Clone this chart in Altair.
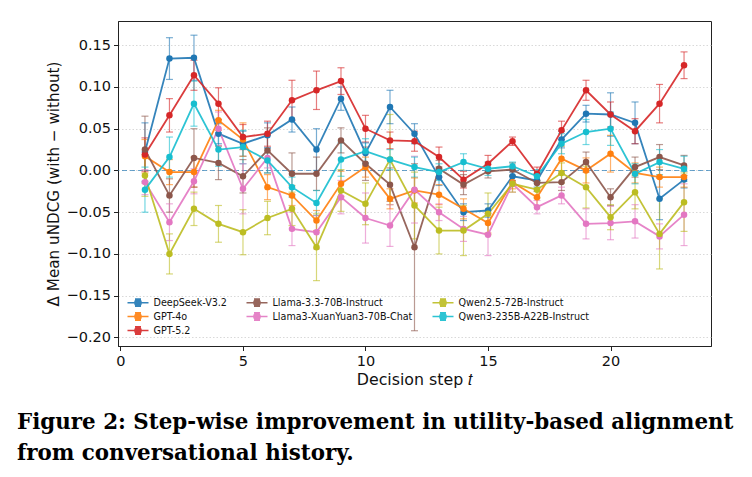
import altair as alt
import pandas as pd

steps = list(range(1, 24))

models = ["DeepSeek-V3.2", "GPT-4o", "GPT-5.2", "Llama-3.3-70B-Instruct",
          "Llama3-XuanYuan3-70B-Chat", "Qwen2.5-72B-Instruct", "Qwen3-235B-A22B-Instruct"]
colors = ["#1f77b4", "#ff7f0e", "#d62728", "#8c564b", "#e377c2", "#bcbd22", "#17becf"]

deepseek_mean = [0.022, 0.134, 0.135, 0.044, 0.032, 0.042, 0.061, 0.025, 0.086, 0.021, 0.076, 0.044,
                 -0.008, -0.050, -0.048, -0.007, -0.012, 0.037, 0.068, 0.067, 0.057, -0.034, -0.011]
gpt4o_mean = [0.017, -0.002, -0.002, 0.060, 0.037, -0.020, -0.030, -0.060, -0.016, 0.004, -0.034, -0.024,
              -0.029, -0.046, -0.063, -0.014, -0.032, 0.014, 0.000, 0.020, -0.003, -0.008, -0.008]
gpt52_mean = [0.019, 0.066, 0.114, 0.080, 0.040, 0.044, 0.084, 0.096, 0.107, 0.050, 0.036, 0.035,
              0.016, -0.011, 0.008, 0.035, -0.004, 0.048, 0.096, 0.067, 0.047, 0.080, 0.126]
llama33_mean = [0.025, -0.030, 0.015, 0.009, -0.007, 0.024, -0.004, -0.004, 0.036, 0.008, -0.017, -0.092,
                0.002, -0.017, -0.001, 0.001, -0.015, -0.014, 0.010, -0.032, 0.004, 0.016, 0.006]
xuanyuan_mean = [-0.014, -0.062, -0.013, 0.050, -0.022, 0.015, -0.070, -0.074, -0.032, -0.057, -0.066, -0.023,
                 -0.050, -0.070, -0.077, -0.016, -0.044, -0.030, -0.064, -0.063, -0.061, -0.079, -0.053]
qwen25_mean = [-0.006, -0.100, -0.046, -0.064, -0.074, -0.057, -0.046, -0.092, -0.024, -0.040, 0.013, -0.042,
               -0.072, -0.072, -0.052, -0.016, -0.023, -0.003, -0.020, -0.056, -0.026, -0.076, -0.038]
qwen3_mean = [-0.023, 0.016, 0.080, 0.025, 0.028, 0.012, -0.020, -0.039, 0.013, 0.023, 0.013, 0.004,
              -0.002, 0.010, 0.002, 0.005, -0.007, 0.032, 0.046, 0.050, -0.004, 0.010, 0.002]

deepseek_err = [0.035, 0.025, 0.027, 0.012, 0.015, 0.015, 0.015, 0.025, 0.014, 0.012, 0.020, 0.012,
                0.010, 0.010, 0.008, 0.005, 0.008, 0.010, 0.010, 0.026, 0.025, 0.025, 0.010]
gpt4o_err = [0.020, 0.015, 0.018, 0.012, 0.020, 0.015, 0.012, 0.012, 0.015, 0.012, 0.012, 0.015,
             0.012, 0.012, 0.012, 0.008, 0.010, 0.015, 0.015, 0.022, 0.012, 0.012, 0.012]
gpt52_err = [0.020, 0.020, 0.018, 0.019, 0.015, 0.015, 0.024, 0.023, 0.016, 0.016, 0.010, 0.012,
             0.012, 0.010, 0.010, 0.005, 0.008, 0.011, 0.012, 0.015, 0.015, 0.023, 0.016]
llama33_err = [0.040, 0.020, 0.035, 0.020, 0.020, 0.027, 0.025, 0.020, 0.015, 0.020, 0.020, 0.100,
               0.010, 0.012, 0.008, 0.008, 0.010, 0.010, 0.012, 0.010, 0.012, 0.015, 0.012]
xuanyuan_err = [0.015, 0.022, 0.015, 0.020, 0.030, 0.012, 0.020, 0.020, 0.020, 0.030, 0.025, 0.040,
                0.010, 0.015, 0.025, 0.010, 0.008, 0.010, 0.018, 0.020, 0.020, 0.015, 0.037]
qwen25_err = [0.025, 0.024, 0.020, 0.022, 0.027, 0.020, 0.020, 0.040, 0.025, 0.025, 0.054, 0.040,
              0.028, 0.030, 0.025, 0.010, 0.010, 0.012, 0.025, 0.015, 0.020, 0.042, 0.035]
qwen3_err = [0.027, 0.024, 0.027, 0.020, 0.020, 0.015, 0.012, 0.015, 0.020, 0.015, 0.012, 0.012,
             0.010, 0.010, 0.008, 0.005, 0.008, 0.012, 0.015, 0.020, 0.012, 0.015, 0.015]

y_ticks = [-0.20, -0.15, -0.10, -0.05, 0.00, 0.05, 0.10, 0.15]
x_ticks = [0, 5, 10, 15, 20]

means = [deepseek_mean, gpt4o_mean, gpt52_mean, llama33_mean, xuanyuan_mean, qwen25_mean, qwen3_mean]
errs = [deepseek_err, gpt4o_err, gpt52_err, llama33_err, xuanyuan_err, qwen25_err, qwen3_err]

rows = []
for m, mv, ev in zip(models, means, errs):
    for t, v, e in zip(steps, mv, ev):
        rows.append({"model": m, "t": t, "mean": v, "lo": v - e, "hi": v + e})
df = pd.DataFrame(rows)

# Vega fills legend columns top-to-bottom; two invisible placeholder entries
# give matplotlib's 3 / 2 / 2 column split.
legend_order = models[:5] + [" "] + models[5:] + ["  "]
legend_colors = colors[:5] + ["rgba(0,0,0,0)"] + colors[5:] + ["rgba(0,0,0,0)"]
color_scale = alt.Scale(domain=legend_order, range=legend_colors)

xs = alt.Scale(domain=[-0.1, 24.1], nice=False, zero=False)
ys = alt.Scale(domain=[-0.2103, 0.179], nice=False, zero=False)

x_axis = alt.Axis(values=x_ticks, title="Decision step 𝑡", grid=False, format="d",
                  titleFontSize=15.8)
y_axis = alt.Axis(values=y_ticks, title="Δ Mean uNDCG (with − without)", format=".2f", grid=True,
                  titleFontSize=15.2)

sym_path = ("M-2.1,0 L2.1,0 M0,-0.74 L0,0.74 M-0.6,-0.74 L0.6,-0.74 M-0.6,0.74 L0.6,0.74 "
            "M0.62,0 A0.62,0.62 0 1,1 -0.62,0 A0.62,0.62 0 1,1 0.62,0 "
            "M0.36,0 A0.36,0.36 0 1,1 -0.36,0 A0.36,0.36 0 1,1 0.36,0 "
            "M0.1,0 A0.1,0.1 0 1,1 -0.1,0 A0.1,0.1 0 1,1 0.1,0")

legend = alt.Legend(
    title=None, orient="none", legendX=14, legendY=275.5, columns=3,
    symbolType=sym_path, symbolSize=100, symbolStrokeWidth=1.5, symbolOpacity=0.9,
    labelFont="DejaVu Sans", labelFontSize=9.6, labelOffset=9.5, labelColor="#111",
    rowPadding=0, columnPadding=16, padding=0,
)
color_leg = alt.Color("model:N", scale=color_scale, legend=legend)
color_nol = alt.Color("model:N", scale=color_scale, legend=None)

base = alt.Chart(df)

zero = alt.Chart(pd.DataFrame({"z": [0.0]})).mark_rule(
    color="#1f77b4", opacity=0.65, strokeDash=[5, 3], strokeWidth=1.1
).encode(y=alt.Y("z:Q", scale=ys, axis=y_axis))

bars = base.mark_rule(strokeWidth=1.2, opacity=0.6).encode(
    x=alt.X("t:Q", scale=xs, axis=x_axis),
    y=alt.Y("lo:Q", scale=ys, axis=y_axis),
    y2="hi:Q",
    color=color_nol,
)
cap_lo = base.mark_tick(orient="horizontal", size=7, thickness=1.2, opacity=0.6).encode(
    x=alt.X("t:Q", scale=xs, axis=x_axis), y=alt.Y("lo:Q", scale=ys, axis=y_axis),
    color=color_nol,
)
cap_hi = base.mark_tick(orient="horizontal", size=7, thickness=1.2, opacity=0.6).encode(
    x=alt.X("t:Q", scale=xs, axis=x_axis), y=alt.Y("hi:Q", scale=ys, axis=y_axis),
    color=color_nol,
)
lines = base.mark_line(strokeWidth=1.8, opacity=0.9).encode(
    x=alt.X("t:Q", scale=xs, axis=x_axis),
    y=alt.Y("mean:Q", scale=ys, axis=y_axis),
    color=color_leg,
)
points = base.mark_circle(size=42, opacity=1).encode(
    x=alt.X("t:Q", scale=xs, axis=x_axis),
    y=alt.Y("mean:Q", scale=ys, axis=y_axis),
    color=color_nol,
)

chart = alt.layer(zero, bars, cap_lo, cap_hi, lines, points).resolve_scale(
    color="independent"
).properties(
    width=593, height=325,
    background="white",
    autosize=alt.AutoSizeParams(type="none"),
    padding={"left": 118, "top": 21, "right": 41, "bottom": 131},
    title=alt.TitleParams(
        text=["Figure 2: Step-wise improvement in utility-based alignment",
              "from conversational history."],
        orient="bottom", anchor="start", frame="group", dx=-101, offset=25,
        font="DejaVu Serif", fontSize=21.4, fontWeight="bold", color="#000",
        lineHeight=31,
    ),
).configure_view(stroke="#222", strokeWidth=1).configure_axis(
    labelFont="DejaVu Sans", titleFont="DejaVu Sans", titleFontWeight="normal",
    labelFontSize=14.5,
    labelColor="#111", titleColor="#111", domainColor="#222", tickColor="#222",
    domainWidth=1, tickWidth=1, tickSize=4.5,
    gridDash=[1.5, 2], gridColor="#cfcfcf", gridWidth=0.8,
).configure_axisX(labelPadding=3.5, titlePadding=5).configure_axisY(labelPadding=3, titlePadding=5)

chart.save("out.html", embed_options={"renderer": "svg", "actions": False})
